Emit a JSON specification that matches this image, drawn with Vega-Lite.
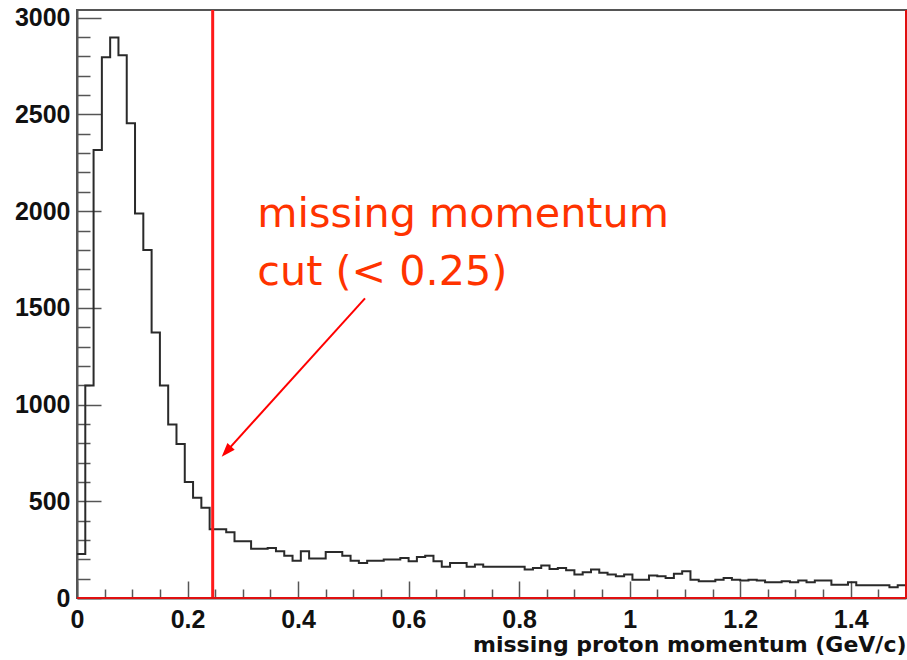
{
  "$schema": "https://vega.github.io/schema/vega-lite/v6.json",
  "width": 829,
  "height": 588,
  "autosize": {"type": "none"},
  "padding": {"left": 77, "top": 10, "right": 1, "bottom": 62},
  "background": "white",
  "config": {
    "view": {"stroke": "#555555", "strokeWidth": 2},
    "axis": {"grid": false}
  },
  "datasets": {
    "hist": [
      {"p": 0.000, "n": 228}, {"p": 0.015, "n": 1098}, {"p": 0.030, "n": 2316}, {"p": 0.045, "n": 2796},
      {"p": 0.060, "n": 2898}, {"p": 0.075, "n": 2806}, {"p": 0.090, "n": 2454}, {"p": 0.105, "n": 1988},
      {"p": 0.120, "n": 1799}, {"p": 0.135, "n": 1373}, {"p": 0.150, "n": 1098}, {"p": 0.165, "n": 897},
      {"p": 0.180, "n": 796}, {"p": 0.195, "n": 600}, {"p": 0.210, "n": 518}, {"p": 0.225, "n": 466},
      {"p": 0.240, "n": 355}, {"p": 0.255, "n": 355}, {"p": 0.270, "n": 340}, {"p": 0.285, "n": 294},
      {"p": 0.300, "n": 294}, {"p": 0.315, "n": 254}, {"p": 0.330, "n": 254}, {"p": 0.345, "n": 259},
      {"p": 0.360, "n": 242}, {"p": 0.375, "n": 219}, {"p": 0.390, "n": 193}, {"p": 0.405, "n": 242},
      {"p": 0.420, "n": 204}, {"p": 0.435, "n": 204}, {"p": 0.450, "n": 238}, {"p": 0.465, "n": 238},
      {"p": 0.480, "n": 219}, {"p": 0.495, "n": 193}, {"p": 0.510, "n": 181}, {"p": 0.525, "n": 193},
      {"p": 0.540, "n": 193}, {"p": 0.555, "n": 199}, {"p": 0.570, "n": 199}, {"p": 0.585, "n": 207},
      {"p": 0.600, "n": 190}, {"p": 0.615, "n": 212}, {"p": 0.630, "n": 219}, {"p": 0.645, "n": 190},
      {"p": 0.660, "n": 161}, {"p": 0.675, "n": 181}, {"p": 0.690, "n": 181}, {"p": 0.705, "n": 161},
      {"p": 0.720, "n": 173}, {"p": 0.735, "n": 161}, {"p": 0.750, "n": 161}, {"p": 0.765, "n": 161},
      {"p": 0.780, "n": 161}, {"p": 0.795, "n": 161}, {"p": 0.810, "n": 147}, {"p": 0.825, "n": 155},
      {"p": 0.840, "n": 168}, {"p": 0.855, "n": 150}, {"p": 0.870, "n": 155}, {"p": 0.885, "n": 143},
      {"p": 0.900, "n": 121}, {"p": 0.915, "n": 133}, {"p": 0.930, "n": 147}, {"p": 0.945, "n": 130},
      {"p": 0.960, "n": 121}, {"p": 0.975, "n": 112}, {"p": 0.990, "n": 121}, {"p": 1.005, "n": 95},
      {"p": 1.020, "n": 95}, {"p": 1.035, "n": 116}, {"p": 1.050, "n": 112}, {"p": 1.065, "n": 104},
      {"p": 1.080, "n": 126}, {"p": 1.095, "n": 138}, {"p": 1.110, "n": 95}, {"p": 1.125, "n": 86},
      {"p": 1.140, "n": 86}, {"p": 1.155, "n": 95}, {"p": 1.170, "n": 104}, {"p": 1.185, "n": 95},
      {"p": 1.200, "n": 90}, {"p": 1.215, "n": 95}, {"p": 1.230, "n": 90}, {"p": 1.245, "n": 81},
      {"p": 1.260, "n": 81}, {"p": 1.275, "n": 86}, {"p": 1.290, "n": 81}, {"p": 1.305, "n": 90},
      {"p": 1.320, "n": 81}, {"p": 1.335, "n": 90}, {"p": 1.350, "n": 90}, {"p": 1.365, "n": 69},
      {"p": 1.380, "n": 69}, {"p": 1.395, "n": 81}, {"p": 1.410, "n": 66}, {"p": 1.425, "n": 66},
      {"p": 1.440, "n": 66}, {"p": 1.455, "n": 66}, {"p": 1.470, "n": 55}, {"p": 1.485, "n": 66},
      {"p": 1.500, "n": 66}
    ]
  },
  "layer": [
    {
      "data": {"name": "hist"},
      "mark": {"type": "line", "interpolate": "step-after", "color": "#2a2a2a", "strokeWidth": 2},
      "encoding": {
        "x": {
          "field": "p", "type": "quantitative",
          "scale": {"domain": [0, 1.5], "nice": false, "zero": false},
          "axis": {
            "values": [0, 0.05, 0.1, 0.15, 0.2, 0.25, 0.3, 0.35, 0.4, 0.45, 0.5, 0.55, 0.6, 0.65, 0.7, 0.75, 0.8, 0.85, 0.9, 0.95, 1, 1.05, 1.1, 1.15, 1.2, 1.25, 1.3, 1.35, 1.4, 1.45, 1.5],
            "tickCount": 200,
            "labelExpr": "round(datum.value*100) % 20 === 0 && datum.value < 1.45 ? format(datum.value, '~g') : ''",
            "tickSize": {"condition": {"test": "round(datum.value*100) % 20 === 0", "value": -17}, "value": -9},
            "tickColor": "#555555", "tickWidth": 1.5,
            "domainColor": "#555555", "domainWidth": 2,
            "labelFont": "Liberation Sans", "labelFontWeight": "bold", "labelFontSize": 25, "labelColor": "#111111",
            "labelPadding": 26, "labelOverlap": false, "labelFlush": false,
            "title": "missing proton momentum (GeV/c)",
            "titleFont": "DejaVu Sans", "titleFontWeight": "bold", "titleFontSize": 22, "titleColor": "#111111",
            "titleX": 829, "titleY": 53, "titleAlign": "right", "titleBaseline": "alphabetic", "titleAnchor": "end"
          }
        },
        "y": {
          "field": "n", "type": "quantitative",
          "scale": {"domain": [0, 3040], "nice": false},
          "axis": {
            "values": [0, 100, 200, 300, 400, 500, 600, 700, 800, 900, 1000, 1100, 1200, 1300, 1400, 1500, 1600, 1700, 1800, 1900, 2000, 2100, 2200, 2300, 2400, 2500, 2600, 2700, 2800, 2900, 3000],
            "tickCount": 200,
            "labelExpr": "datum.value % 500 === 0 ? format(datum.value, 'd') : ''",
            "tickSize": {"condition": {"test": "datum.value % 500 === 0", "value": -24}, "value": -13},
            "tickColor": "#555555", "tickWidth": 1.5,
            "domainColor": "#555555", "domainWidth": 2,
            "labelFont": "Liberation Sans", "labelFontWeight": "bold", "labelFontSize": 25, "labelColor": "#111111",
            "labelPadding": 31, "labelOverlap": false, "labelFlush": false,
            "title": null
          }
        }
      }
    },
    {
      "data": {"values": [{}]},
      "mark": {"type": "rule", "color": "#ff1a1a", "strokeWidth": 3},
      "encoding": {"x": {"datum": 0.2455, "type": "quantitative"}}
    },
    {
      "data": {"values": [{}]},
      "mark": {"type": "rule", "color": "#e01010", "strokeWidth": 2},
      "encoding": {"y": {"datum": 0, "type": "quantitative"}}
    },
    {
      "data": {"values": [{}]},
      "mark": {"type": "rule", "color": "#e01010", "strokeWidth": 2},
      "encoding": {"x": {"datum": 1.5, "type": "quantitative"}}
    },
    {
      "data": {"values": [{}]},
      "mark": {"type": "rule", "color": "#ff0000", "strokeWidth": 2},
      "encoding": {
        "x": {"datum": 0.5211, "type": "quantitative"},
        "y": {"datum": 1549, "type": "quantitative"},
        "x2": {"datum": 0.2665},
        "y2": {"datum": 745}
      }
    },
    {
      "data": {"values": [{}]},
      "mark": {"type": "point", "shape": "M0,-1L0.7,1L-0.7,1Z", "filled": true, "color": "#ff0000", "opacity": 1, "size": 196, "angle": 222},
      "encoding": {
        "x": {"datum": 0.2703, "type": "quantitative"},
        "y": {"datum": 757, "type": "quantitative"}
      }
    },
    {
      "data": {"values": [{}]},
      "mark": {"type": "text", "text": ["missing momentum", "cut (< 0.25)"], "font": "DejaVu Sans", "fontSize": 41.3, "color": "#ff3300", "align": "left", "baseline": "alphabetic", "lineHeight": 58},
      "encoding": {
        "x": {"datum": 0.3262, "type": "quantitative"},
        "y": {"datum": 1920, "type": "quantitative"}
      }
    }
  ]
}
